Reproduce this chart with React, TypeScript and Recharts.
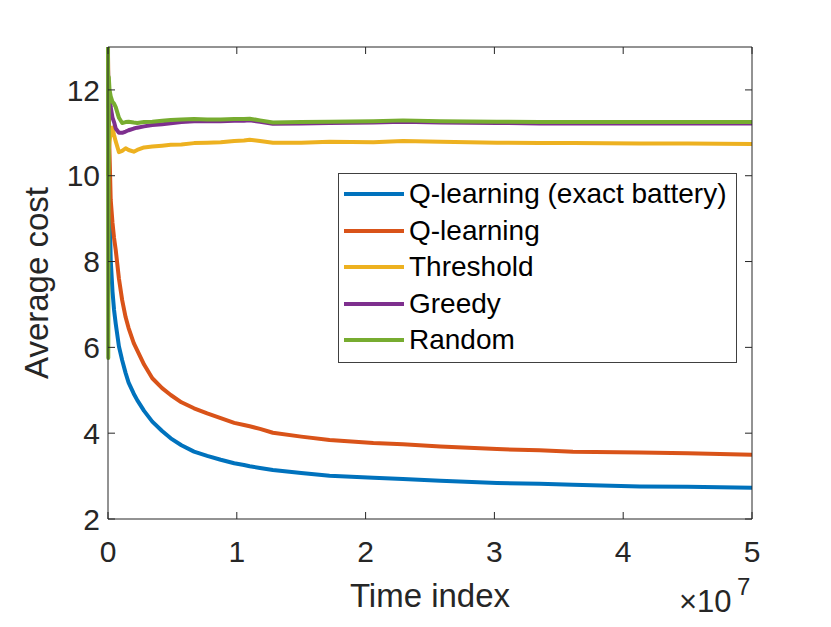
// MATLAB-style average-cost convergence plot (five policies) redrawn with Recharts.
import React from 'react'
import {
  Legend,
  Line,
  LineChart,
  XAxis,
  YAxis,
} from 'recharts'

// ----------------------------------------------------------------------- //
// Data (time index in units of 1e7)                                       //
// ----------------------------------------------------------------------- //

const timeIdx = [
  0, 0.002, 0.006, 0.012, 0.021, 0.035, 0.047, 0.06, 0.085, 0.11, 0.137, 0.16,
  0.2, 0.227, 0.28, 0.344, 0.42, 0.487, 0.57, 0.668, 0.77, 0.875, 0.98, 1.056,
  1.1, 1.18, 1.28, 1.5, 1.72, 2.06, 2.29, 2.58, 3.02, 3.35, 3.61, 4.13, 4.5, 5.0,
]

const costQExact = [
  12.5, 12.0, 10.8, 9.3, 8.04, 7.3, 6.87, 6.55, 6.02, 5.7, 5.4, 5.18,
  4.92, 4.77, 4.52, 4.27, 4.05, 3.88, 3.72, 3.57, 3.47, 3.38, 3.3, 3.26,
  3.23, 3.19, 3.14, 3.07, 3.01, 2.96, 2.93, 2.89, 2.84, 2.82, 2.8, 2.76, 2.75, 2.73,
]

const costQLearning = [
  12.8, 12.3, 11.3, 10.5, 9.44, 8.9, 8.55, 8.27, 7.6, 7.1, 6.7, 6.45,
  6.1, 5.93, 5.6, 5.28, 5.05, 4.89, 4.72, 4.58, 4.46, 4.35, 4.24, 4.19,
  4.16, 4.1, 4.01, 3.92, 3.84, 3.77, 3.74, 3.69, 3.63, 3.6, 3.57, 3.55, 3.53, 3.5,
]

const costThreshold = [
  10.0, 10.2, 10.6, 10.8, 11.0, 11.12, 10.95, 10.8, 10.55, 10.58, 10.64, 10.6,
  10.56, 10.6, 10.66, 10.68, 10.7, 10.72, 10.73, 10.76, 10.77, 10.78, 10.81, 10.82,
  10.84, 10.81, 10.77, 10.77, 10.79, 10.78, 10.81, 10.79, 10.77, 10.76, 10.76, 10.75, 10.75, 10.74,
]

const costGreedy = [
  12.5, 11.6, 12.0, 11.9, 11.6, 11.35, 11.25, 11.1, 11.0, 11.0, 11.03, 11.06,
  11.1, 11.12, 11.15, 11.18, 11.2, 11.22, 11.25, 11.27, 11.27, 11.27, 11.28, 11.28,
  11.29, 11.26, 11.21, 11.22, 11.23, 11.24, 11.26, 11.24, 11.23, 11.22, 11.22, 11.22, 11.22, 11.22,
]

const costRandom = [
  13.6, 5.75, 12.3, 12.0, 11.85, 11.72, 11.68, 11.6, 11.35, 11.23, 11.25, 11.26,
  11.24, 11.23, 11.25, 11.26, 11.28, 11.3, 11.31, 11.32, 11.31, 11.31, 11.32, 11.32,
  11.33, 11.29, 11.24, 11.25, 11.26, 11.27, 11.29, 11.27, 11.26, 11.25, 11.25, 11.25, 11.25, 11.25,
]

const seriesNames = ['Q-learning (exact battery)', 'Q-learning', 'Threshold', 'Greedy', 'Random']
const xTicks = [0, 1, 2, 3, 4, 5]
const yTicks = [2, 4, 6, 8, 10, 12]

// ----------------------------------------------------------------------- //
// Styling                                                                 //
// ----------------------------------------------------------------------- //

// MATLAB default line colour order
const COLORS = ['#0072BD', '#D95319', '#EDB120', '#7E2F8E', '#77AC30']
const AXIS = '#262626'
const FONT = '"Liberation Sans", Arial, Helvetica, sans-serif'

const rows = timeIdx.map((t, i) => ({
  t,
  qExact: costQExact[i],
  qLearn: costQLearning[i],
  threshold: costThreshold[i],
  greedy: costGreedy[i],
  random: costRandom[i],
}))

const seriesKeys = ['qExact', 'qLearn', 'threshold', 'greedy', 'random']

// ----------------------------------------------------------------------- //
// Legend                                                                  //
// ----------------------------------------------------------------------- //

function BoxLegend({ payload }: { payload?: Array<{ value: string; color: string }> }) {
  const items = (payload ?? [])
    .filter((it) => seriesNames.includes(it.value))
    .sort((a, b) => seriesNames.indexOf(a.value) - seriesNames.indexOf(b.value))
  return (
    <div
      style={{
        width: 397,
        height: 186,
        border: '1px solid #404040',
        background: '#fff',
        paddingTop: 2,
        boxSizing: 'content-box',
        fontFamily: FONT,
        fontSize: 28,
        color: '#000',
      }}
    >
      {items.map((it) => (
        <div
          key={it.value}
          style={{ display: 'flex', alignItems: 'center', height: 36.5, whiteSpace: 'nowrap' }}
        >
          <span
            style={{
              display: 'inline-block',
              width: 60,
              height: 4,
              marginLeft: 5,
              marginRight: 5,
              background: it.color,
            }}
          />
          <span>{it.value}</span>
        </div>
      ))}
    </div>
  )
}

// ----------------------------------------------------------------------- //
// Main component                                                          //
// ----------------------------------------------------------------------- //

export default function App() {
  const tickStyle = { fill: AXIS, fontSize: 30, fontFamily: FONT }
  return (
    <div style={{ position: 'absolute', left: 0, top: 0, width: 831, height: 627, background: '#fff' }}>
      <LineChart
        width={831}
        height={627}
        data={rows}
        margin={{ top: 46, right: 78, bottom: 0, left: 0 }}
      >
        <XAxis
          type="number"
          dataKey="t"
          domain={[0, 5]}
          ticks={xTicks}
          interval={0}
          height={108}
          stroke={AXIS}
          tickSize={-7}
          tickMargin={29}
          tick={tickStyle}
          label={{
            value: 'Time index',
            position: 'insideBottom',
            offset: 20,
            fontSize: 33,
            fill: AXIS,
            fontFamily: FONT,
          }}
        />
        {/* box: top and right axes, ticks only */}
        <XAxis
          xAxisId="top"
          orientation="top"
          type="number"
          dataKey="t"
          domain={[0, 5]}
          ticks={xTicks}
          interval={0}
          height={1}
          stroke={AXIS}
          tickSize={-7}
          tickFormatter={() => ''}
        />
        <YAxis
          type="number"
          domain={[2, 13]}
          ticks={yTicks}
          interval={0}
          allowDataOverflow
          width={108}
          stroke={AXIS}
          tickSize={-7}
          tickMargin={15}
          tick={tickStyle}
          label={{
            content: (props: any) => {
              const vb = props?.viewBox
              const cy = vb ? vb.y + vb.height / 2 : 283
              const cx = 48
              return (
                <text
                  x={cx}
                  y={cy}
                  transform={`rotate(-90 ${cx} ${cy})`}
                  textAnchor="middle"
                  fill={AXIS}
                  fontSize={33}
                  fontFamily={FONT}
                >
                  Average cost
                </text>
              )
            },
          }}
        />
        <YAxis
          yAxisId="right"
          orientation="right"
          type="number"
          domain={[2, 13]}
          ticks={yTicks}
          interval={0}
          allowDataOverflow
          width={1}
          stroke={AXIS}
          tickSize={-7}
          tickFormatter={() => ''}
        />
        {seriesKeys.map((k, i) => (
          <Line
            key={k}
            type="linear"
            dataKey={k}
            name={seriesNames[i]}
            stroke={COLORS[i]}
            strokeWidth={4}
            strokeLinejoin="round"
            dot={false}
            activeDot={false}
            isAnimationActive={false}
          />
        ))}
        {/* invisible series so the box axes are in use */}
        <Line
          xAxisId="top"
          yAxisId="right"
          dataKey="random"
          stroke="none"
          legendType="none"
          dot={false}
          activeDot={false}
          isAnimationActive={false}
        />
        <Legend
          layout="vertical"
          align="center"
          verticalAlign="middle"
          wrapperStyle={{ left: 338, top: 173, width: 'auto' }}
          content={(p: any) => <BoxLegend payload={p.payload} />}
        />
      </LineChart>
      <svg
        width={831}
        height={627}
        style={{ position: 'absolute', left: 0, top: 0, pointerEvents: 'none' }}
      >
        <text x={679} y={612} fontSize={31} fontFamily={FONT} fill={AXIS}>
          ×10
        </text>
        <text x={737} y={595} fontSize={24} fontFamily={FONT} fill={AXIS}>
          7
        </text>
      </svg>
    </div>
  )
}
